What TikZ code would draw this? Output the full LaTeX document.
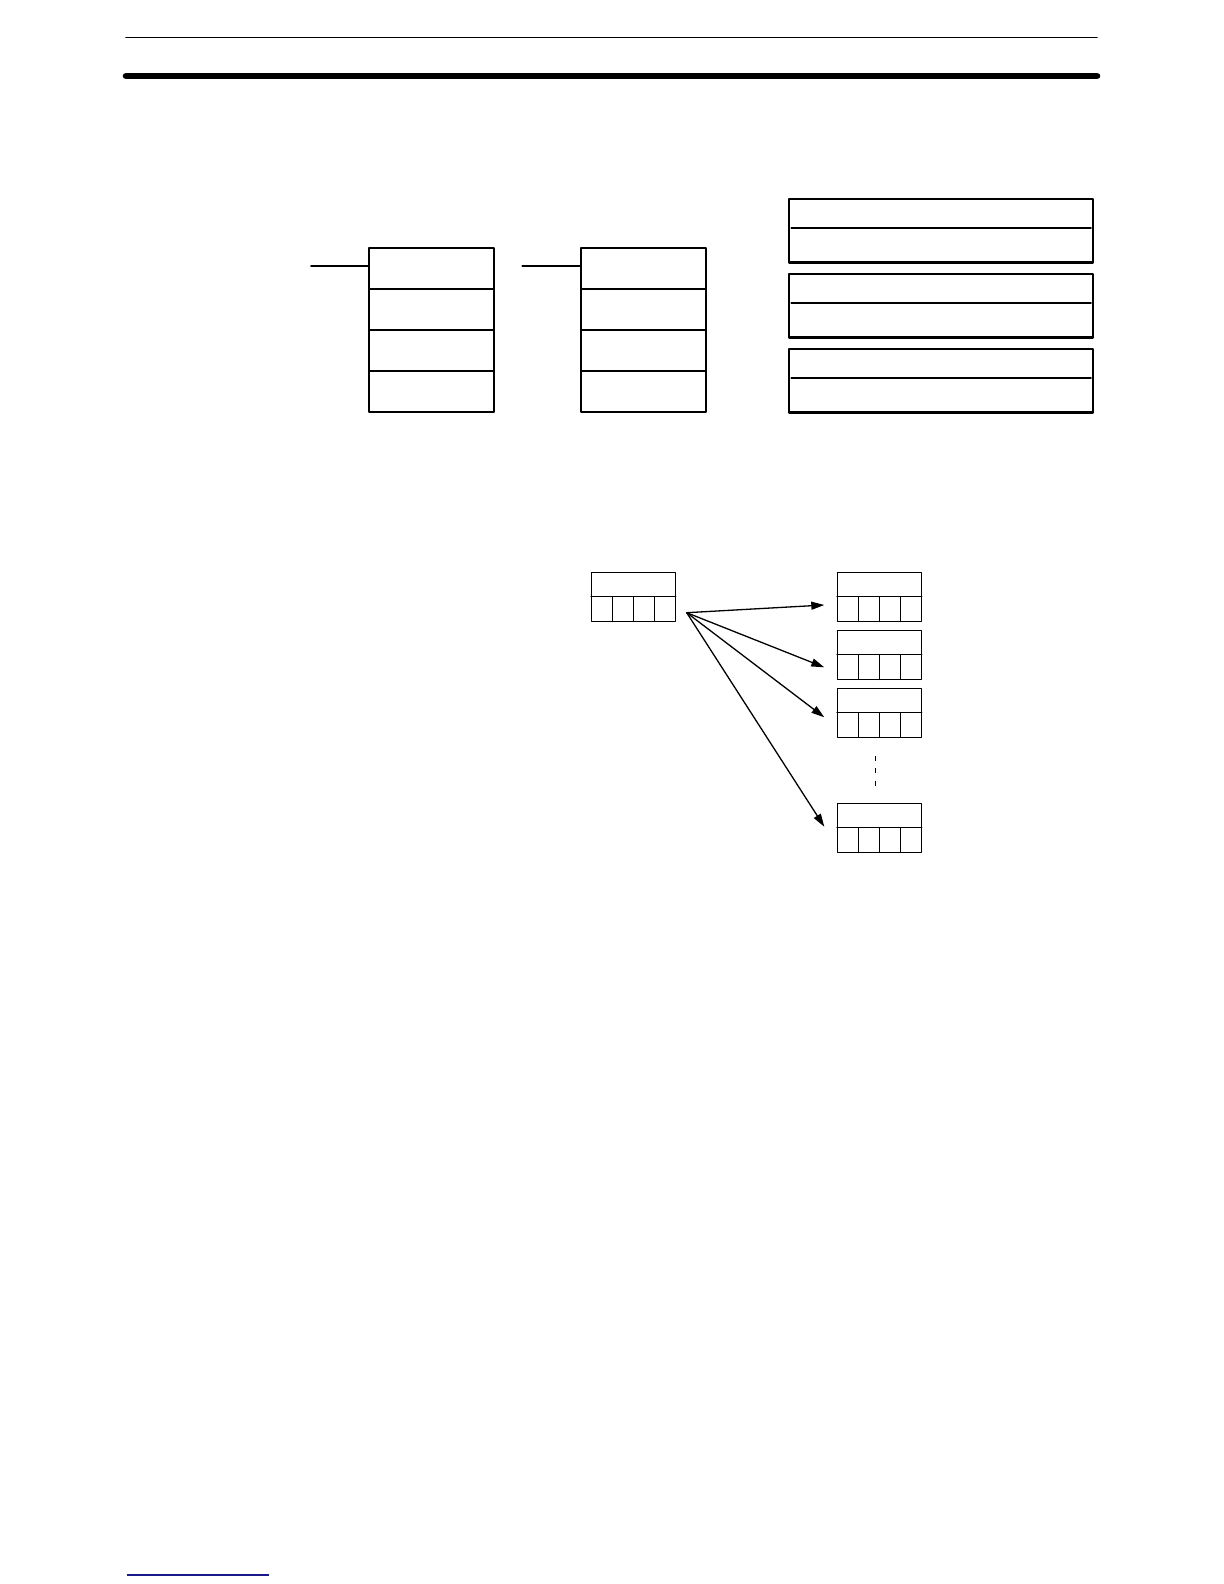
\documentclass[tikz,border=0pt]{standalone}
\usepackage{tikz}
\usetikzlibrary{arrows.meta}
\definecolor{qqqqcc}{rgb}{0.1,0.1,0.55}

\begin{document}
\begin{tikzpicture}[line cap=round,line join=round,>={Triangle[length=6.5pt,width=4pt]},x=0.5pt,y=-0.5pt,
    cell/.style={draw,line width=1pt,minimum width=62.35pt,minimum height=20.5pt,inner sep=0pt},
    wide/.style={draw,line width=1.1pt,minimum width=152.15pt,minimum height=31.7pt,inner sep=0pt},
    word/.style={draw,line width=0.5pt,minimum width=42pt,minimum height=24.35pt,inner sep=0pt},
    dotline/.style={line width=0.55pt,line cap=butt,dash pattern=on 2.5pt off 3.75pt}]
      \useasboundingbox (0,0) rectangle (1224,1584);
      % page rules
      \draw[line width=0.85pt] (126,37.5) -- (1097,37.5);
      \draw[line width=3.3pt] (126,76) -- (1097,76);
      \draw[color=qqqqcc,line width=0.6pt,line cap=butt] (126.7,1575) -- (269,1575);
      % two stacks
      \foreach \i in {1,...,4}
      {
      \node[cell] (a\i) at (431.35,227.2+41*\i) {};
      \node[cell] (b\i) at (643.15,227.2+41*\i) {};
      }
      \coordinate (inA) at (311,265.7);
      \coordinate (inB) at (522.4,265.7);
      \draw[line width=1pt] (inA) -- (a1.west |- inA);
      \draw[line width=1pt] (inB) -- (b1.west |- inB);
      % three wide boxes
      \foreach \i in {1,2,3}
      {
      \node[wide] (r\i) at (941.2,155.7+75*\i) {};
      \draw[line width=1pt] ([shift={(3.5,-3)}]r\i.west) -- ([shift={(-3.5,-3)}]r\i.east);
      }
      % source word and target words
      \node[word] (src) at (633.3,596.7) {};
      \foreach \i/\y in {1/596.7,2/654.7,3/712.7,4/827.7}
      \node[word] (t\i) at (879.3,\y) {};
      \foreach \n in {src,t1,t2,t3,t4}
      {
      \draw[line width=0.5pt] (\n.west) -- (\n.east);
      \foreach \k in {-1,0,1}
      \draw[line width=0.5pt] ([shift={(\k*21,0)}]\n.center) -- ([shift={(\k*21,0)}]\n.south);
      }
      \coordinate (hub) at (686.7,612.7);
      \foreach \i/\dy in {1/8.3,2/12.6,3/4.6,4/-1}
      \draw[->,line width=0.65pt] (hub) -- ([shift={(-12.5,\dy)}]t\i.west);
      \draw[dotline] ([shift={(-4,18)}]t3.south) -- ([shift={(-4,-17)}]t4.north);
    \end{tikzpicture}
\end{document}
